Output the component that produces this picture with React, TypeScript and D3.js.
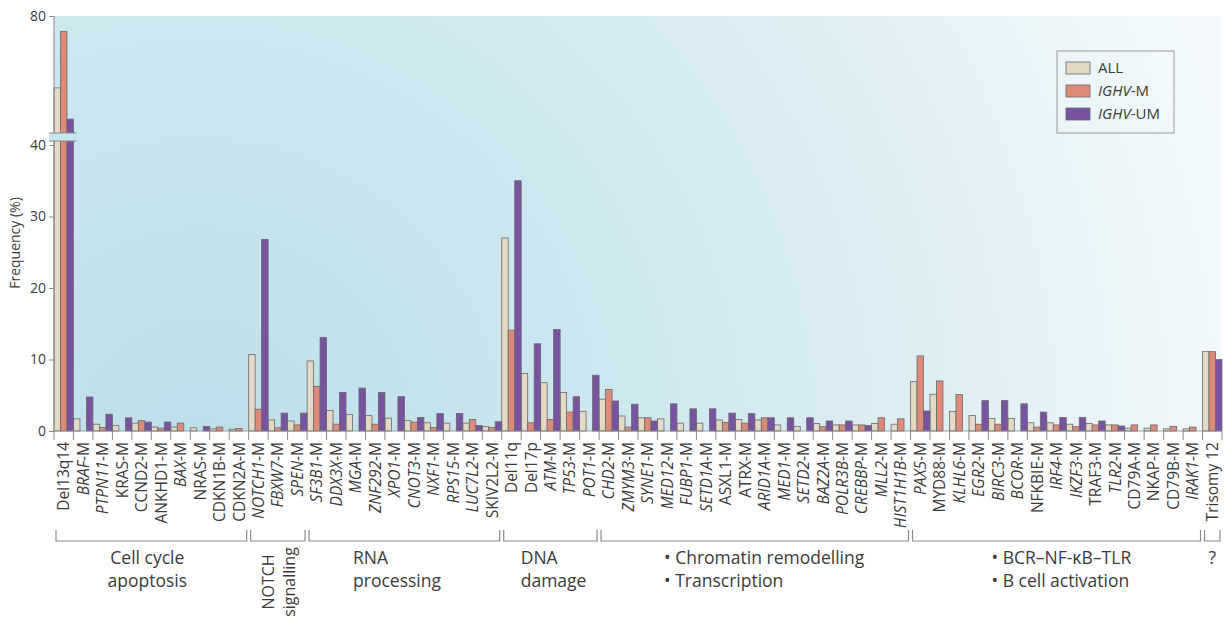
import React, { useEffect, useRef } from "react";
import * as d3 from "d3";

// categories, left to right
const categories = [
  "Del13q14", "BRAF-M", "PTPN11-M", "KRAS-M", "CCND2-M", "ANKHD1-M", "BAX-M", "NRAS-M", "CDKN1B-M", "CDKN2A-M",
  "NOTCH1-M", "FBXW7-M", "SPEN-M",
  "SF3B1-M", "DDX3X-M", "MGA-M", "ZNF292-M", "XPO1-M", "CNOT3-M", "NXF1-M", "RPS15-M", "LUC7L2-M", "SKIV2L2-M",
  "Del11q", "Del17p", "ATM-M", "TP53-M", "POT1-M",
  "CHD2-M", "ZMYM3-M", "SYNE1-M", "MED12-M", "FUBP1-M", "SETD1A-M", "ASXL1-M", "ATRX-M", "ARID1A-M", "MED1-M",
  "SETD2-M", "BAZ2A-M", "POLR3B-M", "CREBBP-M", "MLL2-M", "HIST1H1B-M",
  "PAX5-M", "MYD88-M", "KLHL6-M", "EGR2-M", "BIRC3-M", "BCOR-M", "NFKBIE-M", "IRF4-M", "IKZF3-M", "TRAF3-M",
  "TLR2-M", "CD79A-M", "NKAP-M", "CD79B-M", "IRAK1-M",
  "Trisomy 12",
];

// gene names printed upright in the figure
const uprightGenes = ["KRAS", "CCND2", "ANKHD1", "NRAS", "CDKN1B", "CDKN2A", "SKIV2L2", "ASXL1", "ATRX", "MYD88", "NFKBIE", "TRAF3", "CD79A", "NKAP", "CD79B"];

const allValues = [
  57, 1.7, 0.95, 0.75, 1.1, 0.55, 0.55, 0.45, 0.3, 0.25,
  10.7, 1.55, 1.4,
  9.8, 2.85, 2.3, 2.15, 1.8, 1.45, 1.15, 1.1, 1.1, 0.6,
  27, 8.05, 6.75, 5.4, 2.75,
  4.45, 2.1, 1.85, 1.7, 1.1, 1.1, 1.55, 1.6, 1.55, 0.85, 0.65, 1.05, 0.85, 0.85, 1.05, 0.95,
  6.9, 5.15, 2.75, 2.15, 1.75, 1.75, 1.15, 1.15, 0.95, 1.05, 0.85, 0.4, 0.4, 0.3, 0.3,
  11.1,
];

const mutatedValues = [
  75, 0, 0.5, 0, 1.45, 0.4, 1.1, 0, 0.55, 0.35,
  3.05, 0.45, 0.85,
  6.25, 0.95, 0, 0.95, 0, 1.25, 0.5, 0, 1.6, 0.5,
  14.1, 1.15, 1.6, 2.65, 0,
  5.8, 0.55, 1.85, 0, 0, 0, 1.2, 1.1, 1.85, 0, 0, 0.6, 0.85, 0.85, 1.85, 1.7,
  10.5, 7.0, 5.1, 0.95, 0.95, 0, 0.55, 0.85, 0.6, 0.85, 0.85, 0.85, 0.85, 0.65, 0.55,
  11.1,
];

const unmutatedValues = [
  47, 4.75, 2.35, 1.85, 1.25, 1.25, 0, 0.65, 0, 0,
  26.8, 2.5, 2.5,
  13.1, 5.4, 6.0, 5.4, 4.8, 1.9, 2.45, 2.45, 0.75, 1.3,
  35.0, 12.2, 14.2, 4.8, 7.8,
  4.2, 3.75, 1.4, 3.8, 3.1, 3.1, 2.5, 2.45, 1.85, 1.85, 1.85, 1.4, 1.4, 0.75, 0, 0,
  2.8, 0, 0, 4.25, 4.25, 3.8, 2.65, 1.9, 1.9, 1.4, 0.7, 0, 0, 0, 0,
  10.0,
];

const seriesNames = ["ALL", "IGHV-M", "IGHV-UM"];
const seriesColors = ["#e3d9c4", "#de8a79", "#7a52a2"];

const lowerTicks = [0, 10, 20, 30, 40];
const upperTicks = [80];

// pathway groups (number of categories in each)
const groupLines = [
  ["Cell cycle", "apoptosis"],
  ["NOTCH", "signalling"],
  ["RNA", "processing"],
  ["DNA", "damage"],
  ["• Chromatin remodelling", "• Transcription"],
  ["• BCR–NF-κB–TLR", "• B cell activation"],
  ["?"],
];
const groupSizes = [10, 3, 10, 5, 16, 15, 1];

const W = 1226;
const H = 619;
const FONT = "'Open Sans', 'Noto Sans', sans-serif";
const TEXT = "#3b3b3b";

export default function App() {
  const svgRef = useRef(null);

  useEffect(() => {
    const svg = d3.select(svgRef.current);
    svg.selectAll("*").remove();

    const left = 54, right = 1222, top = 16, base = 431;
    const breakTop = 133, breakBottom = 141;

    const x = d3.scaleBand().domain(categories).range([left, right]).padding(0);
    const xs = d3.scaleBand().domain(seriesNames).range([0, x.bandwidth()]).padding(0);
    const yLow = d3.scaleLinear([0, 40], [base, 145]);
    const yHigh = d3.scaleLinear([40, 80], [breakBottom, top]);
    const y = (v) => (v <= 40 ? yLow(v) : yHigh(v));

    // background gradient
    const defs = svg.append("defs");
    const grad = defs
      .append("radialGradient")
      .attr("id", "bg")
      .attr("gradientUnits", "userSpaceOnUse")
      .attr("cx", 200)
      .attr("cy", 440)
      .attr("r", 1080);
    grad.append("stop").attr("offset", 0).attr("stop-color", "#bddfe9");
    grad.append("stop").attr("offset", 0.4).attr("stop-color", "#cde7ef");
    grad.append("stop").attr("offset", 0.75).attr("stop-color", "#e2f1f5");
    grad.append("stop").attr("offset", 1).attr("stop-color", "#f4fafc");

    svg
      .append("rect")
      .attr("x", left)
      .attr("y", top)
      .attr("width", right - left)
      .attr("height", base - top)
      .attr("fill", "url(#bg)");

    // bars
    const seriesValues = [allValues, mutatedValues, unmutatedValues];
    seriesNames.forEach((s, si) => {
      svg
        .append("g")
        .selectAll("rect")
        .data(categories.map((c, i) => ({ c, v: seriesValues[si][i] })).filter((d) => d.v > 0))
        .join("rect")
        .attr("x", (d) => x(d.c) + xs(s))
        .attr("y", (d) => y(d.v))
        .attr("width", xs.bandwidth())
        .attr("height", (d) => base - y(d.v))
        .attr("fill", seriesColors[si])
        .attr("stroke", "#6a6a6a")
        .attr("stroke-width", 0.8);
    });

    // y axis line
    svg
      .append("line")
      .attr("x1", left)
      .attr("x2", left)
      .attr("y1", top)
      .attr("y2", base)
      .attr("stroke", "#8a8a8a");

    const styleAxis = (g) => {
      g.select(".domain").remove();
      g.selectAll("line").attr("stroke", "#8a8a8a");
      g.selectAll("text").attr("fill", TEXT).style("font-size", "14px").style("font-family", FONT);
    };
    svg
      .append("g")
      .attr("transform", `translate(${left},0)`)
      .call(d3.axisLeft(yLow).tickValues(lowerTicks).tickSize(5).tickPadding(3))
      .call(styleAxis);
    svg
      .append("g")
      .attr("transform", `translate(${left},0)`)
      .call(d3.axisLeft(yHigh).tickValues(upperTicks).tickSize(5).tickPadding(3))
      .call(styleAxis);

    // axis break
    svg
      .append("rect")
      .attr("x", left - 5)
      .attr("y", breakTop)
      .attr("width", x.bandwidth() + 9)
      .attr("height", breakBottom - breakTop)
      .attr("fill", "url(#bg)");
    [breakTop, breakBottom].forEach((yy) =>
      svg
        .append("line")
        .attr("x1", left - 5)
        .attr("x2", left + x.bandwidth() + 3)
        .attr("y1", yy)
        .attr("y2", yy)
        .attr("stroke", "#8a8a8a")
    );

    svg
      .append("text")
      .attr("transform", `translate(20,243) rotate(-90)`)
      .attr("text-anchor", "middle")
      .attr("fill", TEXT)
      .style("font-size", "14px")
      .style("font-family", FONT)
      .text("Frequency (%)");

    // x baseline and ticks
    svg
      .append("line")
      .attr("x1", left)
      .attr("x2", right)
      .attr("y1", base)
      .attr("y2", base)
      .attr("stroke", "#8a8a8a")
      .attr("stroke-width", 0.8);
    svg
      .append("g")
      .selectAll("line")
      .data(d3.range(categories.length + 1))
      .join("line")
      .attr("x1", (i) => left + i * x.step())
      .attr("x2", (i) => left + i * x.step())
      .attr("y1", base)
      .attr("y2", base + 9)
      .attr("stroke", "#8a8a8a");

    // category labels
    const labels = svg
      .append("g")
      .selectAll("text")
      .data(categories)
      .join("text")
      .attr("transform", (c) => `translate(${x(c) + x.bandwidth() / 2},${base + 11}) rotate(-90)`)
      .attr("text-anchor", "end")
      .attr("dy", "0.36em")
      .attr("fill", TEXT)
      .style("font-size", "15.5px")
      .style("font-family", FONT);
    labels.each(function (c) {
      const t = d3.select(this);
      if (c.endsWith("-M")) {
        const gene = c.slice(0, -2);
        t.append("tspan")
          .style("font-style", uprightGenes.includes(gene) ? "normal" : "italic")
          .text(gene);
        t.append("tspan").text("-M");
      } else {
        t.text(c);
      }
    });

    // group brackets
    const bracketY = 541;
    const labelOffset = [null, null, 44, 17, 63, 79, null];
    let start = 0;
    groupSizes.forEach((n, gi) => {
      const x0 = left + start * x.step() + 2;
      const x1 = left + (start + n) * x.step() - 2;
      start += n;
      svg
        .append("path")
        .attr("d", `M${x0},${bracketY - 11}V${bracketY}H${x1}V${bracketY - 11}`)
        .attr("fill", "none")
        .attr("stroke", "#8a8a8a")
        .attr("stroke-width", 1.2);

      const lines = groupLines[gi];
      const g = svg
        .append("g")
        .attr("fill", TEXT)
        .style("font-family", FONT);
      if (gi === 1) {
        lines.forEach((ln, li) =>
          g
            .append("text")
            .attr("transform", `translate(${x0 + 18 + li * 21},582) rotate(-90)`)
            .attr("text-anchor", "middle")
            .attr("dy", "0.36em")
            .style("font-size", "16px")
            .text(ln)
        );
      } else {
        const off = labelOffset[gi];
        lines.forEach((ln, li) =>
          g
            .append("text")
            .attr("x", off == null ? (x0 + x1) / 2 - (gi === 0 ? 4 : 0) : x0 + off)
            .attr("y", 564 + li * 23)
            .attr("text-anchor", off == null ? "middle" : "start")
            .style("font-size", "17.5px")
            .text(ln)
        );
      }
    });

    // legend
    const lg = svg.append("g").attr("transform", "translate(1057,51)");
    lg.append("rect")
      .attr("width", 117)
      .attr("height", 82)
      .attr("fill", "none")
      .attr("stroke", "#9a9a9a");
    seriesNames.forEach((s, i) => {
      const row = lg.append("g").attr("transform", `translate(9,${17 + i * 23})`);
      row.append("rect")
        .attr("y", -6)
        .attr("width", 24)
        .attr("height", 12)
        .attr("fill", seriesColors[i])
        .attr("stroke", "#6a6a6a")
        .attr("stroke-width", 0.8);
      const t = row
        .append("text")
        .attr("x", 32)
        .attr("dy", "0.36em")
        .attr("fill", TEXT)
        .style("font-size", "15px")
        .style("font-family", FONT);
      if (s.startsWith("IGHV")) {
        t.append("tspan").style("font-style", "italic").text("IGHV");
        t.append("tspan").text(s.slice(4));
      } else {
        t.text(s);
      }
    });
  }, []);

  return (
    <svg
      ref={svgRef}
      width={W}
      height={H}
      style={{ position: "absolute", left: 0, top: 0, background: "#fff" }}
    />
  );
}
